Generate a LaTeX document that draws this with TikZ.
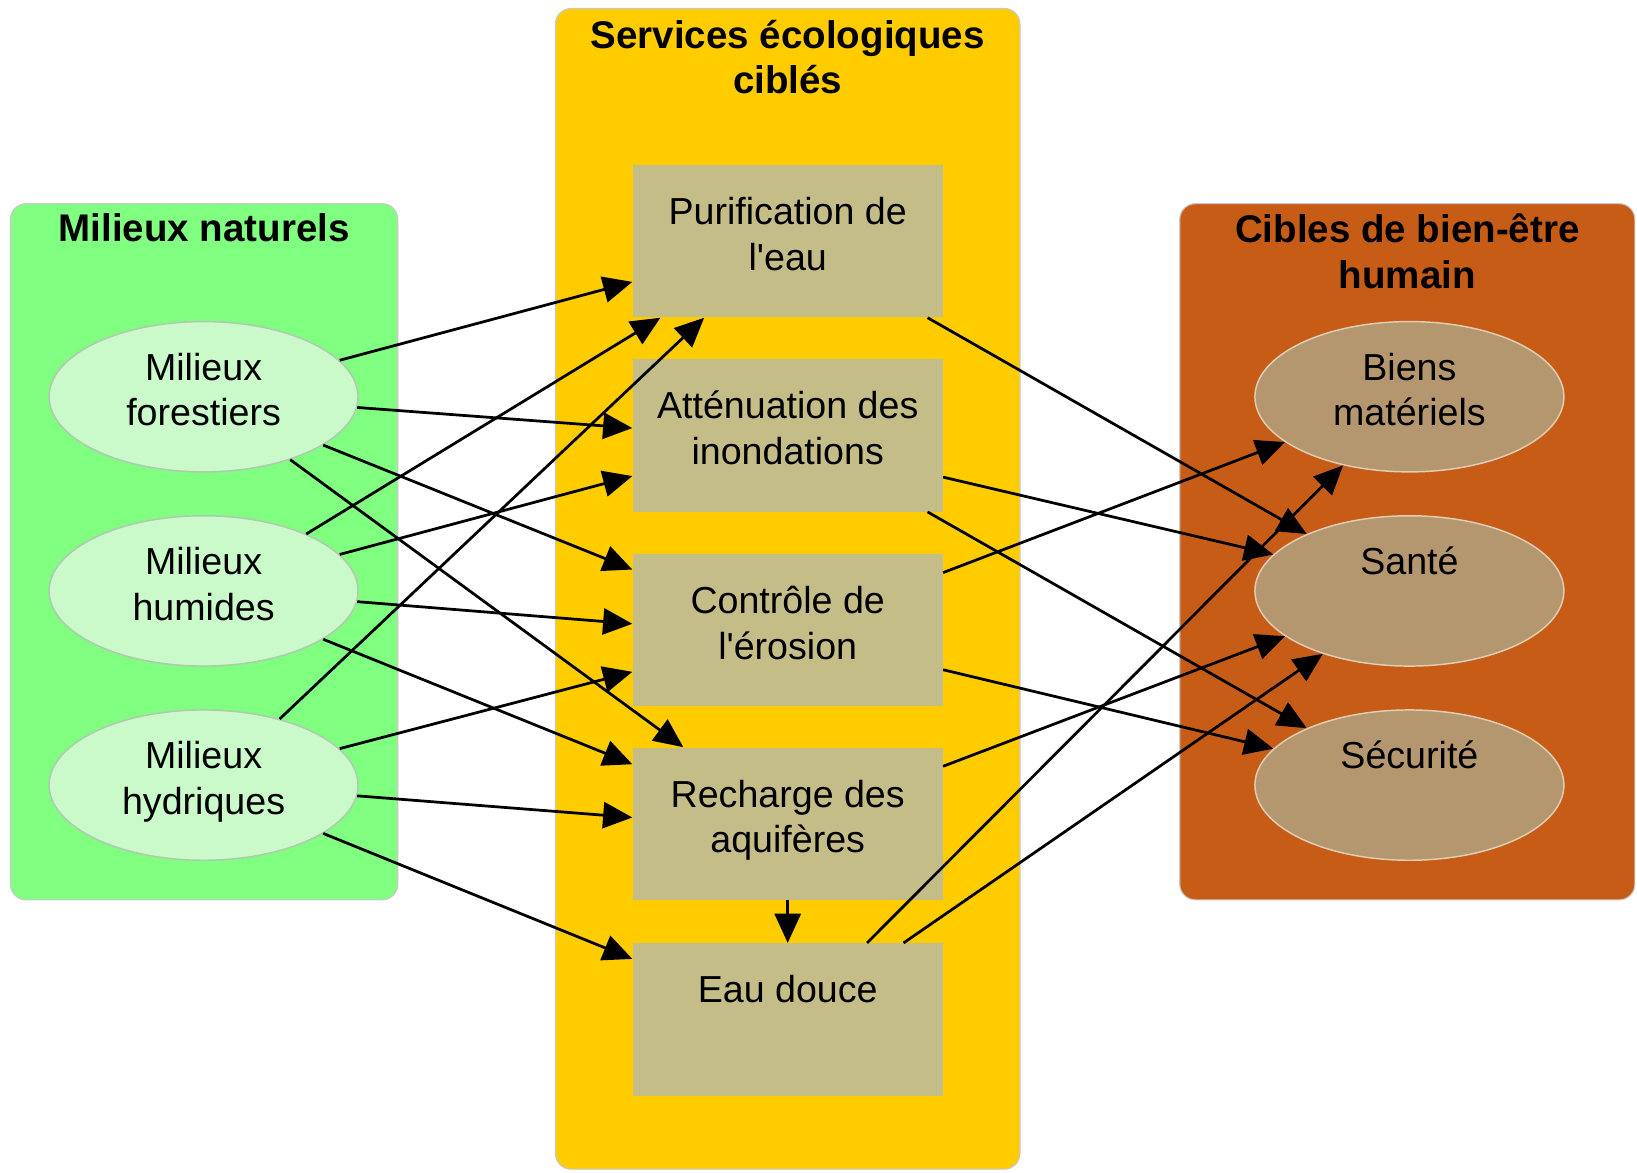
\documentclass[tikz,border=0pt]{standalone}
\usepackage{fontspec}
\setmainfont{Liberation Sans}[Ligatures=TeXOff]
\usepackage{tikz}
\usetikzlibrary{arrows.meta,shapes.geometric,positioning,calc}
\definecolor{natgreen}{RGB}{128,255,128}
\definecolor{natpale}{RGB}{202,250,202}
\definecolor{natline}{RGB}{175,200,175}
\definecolor{servyellow}{RGB}{255,204,0}
\definecolor{servkhaki}{RGB}{196,189,136}
\definecolor{cibleorange}{RGB}{198,92,22}
\definecolor{cibletan}{RGB}{180,151,110}
\definecolor{cibleline}{RGB}{225,205,180}
\definecolor{panelgray}{RGB}{200,200,200}

\begin{document}
\begin{tikzpicture}[x=0.02cm, y=-0.02cm,
    panel/.style={draw=panelgray, line width=0.6pt, rounded corners=0.3cm, inner sep=0pt},
    paneltitle/.style={font=\fontsize{21}{25}\selectfont\bfseries, align=center, inner sep=0pt},
    bodytext/.style={font=\fontsize{20.5}{25}\selectfont, align=center, text depth=8pt},
    milieu/.style={bodytext, ellipse, draw=natline, line width=0.8pt, fill=natpale, minimum width=5.92cm, minimum height=2.88cm},
    service/.style={bodytext, rectangle, fill=servkhaki, minimum width=5.94cm, minimum height=2.92cm},
    cible/.style={bodytext, ellipse, draw=cibleline, line width=0.8pt, fill=cibletan, minimum width=5.92cm, minimum height=2.88cm},
    oneline/.style={text height=15pt, text depth=33pt},
    flow/.style={-{Triangle[length=0.56cm, width=0.5cm]}, line width=1.5pt}]

    \useasboundingbox (0,0) rectangle (1568,1123);

    % Panels
    \node[panel, fill=natgreen, minimum width=7.42cm, minimum height=13.34cm] (nat) at (195.5,528.5) {};
    \node[panel, fill=servyellow, minimum width=8.9cm, minimum height=22.24cm] (serv) at (754.5,564) {};
    \node[panel, fill=cibleorange, minimum width=8.72cm, minimum height=13.34cm] (cib) at (1348,528.5) {};

    \node[paneltitle, below=0.2cm of nat.north] (nattitle) {Milieux naturels};
    \node[paneltitle, below=0.22cm of serv.north] (servtitle) {Services écologiques\\ciblés};
    \node[paneltitle, below=0.2cm of cib.north] (cibtitle) {Cibles de bien-être\\humain};

    % Natural environments
    \node[milieu] (foret) at (195,380) {Milieux\\forestiers};
    \node[milieu] (humide) at (195,566) {Milieux\\humides};
    \node[milieu] (hydrique) at (195,752) {Milieux\\hydriques};

    % Ecological services
    \node[service] (purif) at (754.5,231) {Purification de\\l'eau};
    \node[service] (atten) at (754.5,417) {Atténuation des\\inondations};
    \node[service] (erosion) at (754.5,603.5) {Contrôle de\\l'érosion};
    \node[service] (recharge) at (754.5,789) {Recharge des\\aquifères};
    \node[service, oneline] (eaudouce) at (754.5,976.5) {Eau douce};

    % Well-being targets
    \node[cible] (biens) at (1350,380) {Biens\\matériels};
    \node[cible, oneline] (sante) at (1350,566) {Santé};
    \node[cible, oneline] (securite) at (1350,752) {Sécurité};

    % Environments to services
    \draw[flow] (foret.15) -- ($(purif.west)+(0,39)$);
    \draw[flow] (foret.-4) -- ($(atten.west)+(0,-7)$);
    \draw[flow] (foret.-22) -- ($(erosion.west)+(0,-58)$);
    \draw[flow] (foret.-36) -- ($(recharge.north)+(-100,0)$);

    \draw[flow] (humide.29) -- ($(purif.south)+(-122,0)$);
    \draw[flow] (humide.15) -- ($(atten.west)+(0,39)$);
    \draw[flow] (humide.-4) -- ($(erosion.west)+(0,-6)$);
    \draw[flow] (humide.-22) -- ($(recharge.west)+(0,-57)$);

    \draw[flow] (hydrique.41) -- ($(purif.south)+(-80,0)$);
    \draw[flow] (hydrique.15) -- ($(erosion.west)+(0,40)$);
    \draw[flow] (hydrique.-4) -- ($(recharge.west)+(0,-6)$);
    \draw[flow] (hydrique.-22) -- ($(eaudouce.west)+(0,-58)$);

    % Services to targets
    \draw[flow] ($(purif.south)+(134,0)$) -- (sante.151);
    \draw[flow] ($(atten.east)+(0,40)$) -- (sante.165);
    \draw[flow] ($(atten.south)+(134,0)$) -- (securite.151);
    \draw[flow] ($(erosion.east)+(0,-55)$) -- (biens.200);
    \draw[flow] ($(erosion.east)+(0,38)$) -- (securite.165);
    \draw[flow] ($(recharge.east)+(0,-55)$) -- (sante.200);
    \draw[flow] (recharge.south) -- (eaudouce.north);
    \draw[flow] ($(eaudouce.north)+(76,0)$) -- (biens.226);
    \draw[flow] ($(eaudouce.north)+(111,0)$) -- (sante.216);
\end{tikzpicture}
\end{document}
